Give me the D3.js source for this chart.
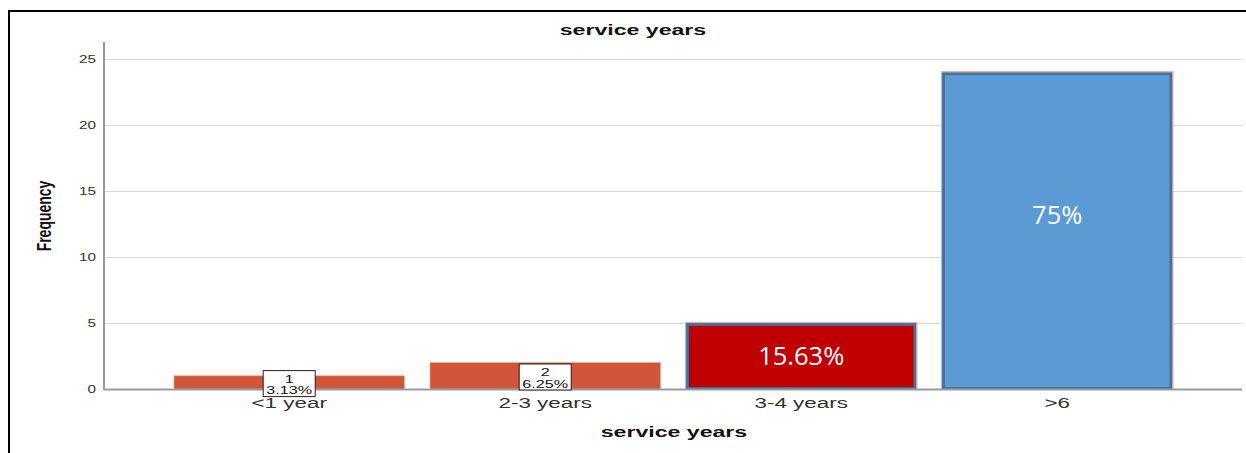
<!DOCTYPE html>
<html>
<head>
<meta charset="utf-8">
<script src="https://cdn.jsdelivr.net/npm/d3@7"></script>
<style>
  html, body { margin: 0; padding: 0; background: #fff; }
  svg { display: block; }
</style>
</head>
<body>
<svg id="chart" width="1246" height="453" font-family="Liberation Sans, Arial, sans-serif"></svg>
<script>
// ---- data ----
const categories = ["<1 year", "2-3 years", "3-4 years", ">6"];
const frequencies = [1, 2, 5, 24];
const percentLabels = ["3.13%", "6.25%", "15.63%", "75%"];
const yTicks = [0, 5, 10, 15, 20, 25];
const chartTitle = "service years";
const xTitle = "service years";
const yTitle = "Frequency";

// ---- layout / styles ----
const W = 1246, H = 453;
const svg = d3.select("#chart");
const plotLeft = 104, plotRight = 1242, plotTop = 42, plotBottom = 389;

const x = d3.scaleBand().domain(categories)
  .range([161.2, 1185.2]).paddingInner(0.1).paddingOuter(0.05);
const y = d3.scaleLinear().domain([0, 26.29]).range([plotBottom, plotTop]);

function stretch(sel, k) {
  sel.each(function () {
    const l = this.getComputedTextLength();
    this.setAttribute("textLength", l * k);
    this.setAttribute("lengthAdjust", "spacingAndGlyphs");
  });
}

// frame
svg.append("line").attr("x1", 9).attr("x2", W).attr("y1", 11).attr("y2", 11)
  .attr("stroke", "#000").attr("stroke-width", 2);
svg.append("line").attr("x1", 9).attr("x2", 9).attr("y1", 10).attr("y2", H)
  .attr("stroke", "#000").attr("stroke-width", 2);

// gridlines
svg.append("g").selectAll("line").data(yTicks.filter(d => d > 0)).join("line")
  .attr("x1", plotLeft).attr("x2", plotRight)
  .attr("y1", d => Math.round(y(d)) + 0.5).attr("y2", d => Math.round(y(d)) + 0.5)
  .attr("stroke", "#d9d9d9").attr("stroke-width", 1.2);

// y axis
const yAxis = svg.append("g").attr("transform", `translate(${plotLeft - 8},0)`)
  .call(d3.axisLeft(y).tickValues(yTicks).tickSize(0).tickPadding(0));
yAxis.select(".domain").remove();
yAxis.attr("font-family", null).attr("font-size", null);
yAxis.selectAll("text").attr("font-size", 10.5).attr("fill", "#333");
stretch(yAxis.selectAll("text"), 1.45);

// bars
const colors = ["#d15538", "#d15538", "#c00000", "#5b9bd5"];
const bars = svg.append("g");
categories.forEach((c, i) => {
  const bx = x(c), bw = x.bandwidth();
  const top = y(frequencies[i]), h = y(0) - top;
  if (i < 2) {
    bars.append("rect").attr("x", bx).attr("y", top).attr("width", bw).attr("height", h)
      .attr("fill", colors[i]).attr("stroke", "#e9a48f").attr("stroke-width", 0.6);
  } else {
    bars.append("rect").attr("x", bx - 0.5).attr("y", top - 0.5).attr("width", bw + 1).attr("height", h + 0.5)
      .attr("fill", "none").attr("stroke", "#eea898").attr("stroke-width", 1.2);
    bars.append("rect").attr("x", bx + 1.5).attr("y", top + 1.5).attr("width", bw - 3).attr("height", h - 2)
      .attr("fill", colors[i]).attr("stroke", "#41719c").attr("stroke-width", 2.8);
  }
});

// baseline and y axis line
svg.append("line").attr("x1", plotLeft).attr("x2", plotRight).attr("y1", plotBottom + 0.5).attr("y2", plotBottom + 0.5)
  .attr("stroke", "#9a9a9a").attr("stroke-width", 1.8);
svg.append("line").attr("x1", plotLeft).attr("x2", plotLeft).attr("y1", plotTop).attr("y2", plotBottom + 1)
  .attr("stroke", "#9a9a9a").attr("stroke-width", 2);

// value labels
const labelFrac = [0.5, 0.5, 0.5, 0.55];
categories.forEach((c, i) => {
  const cx = x(c) + x.bandwidth() / 2;
  if (i < 2) {
    const cy = (y(frequencies[i]) + y(0)) / 2 + 1.2;
    const bw = 52, bh = 26;
    svg.append("rect").attr("x", cx - bw / 2).attr("y", cy - bh / 2).attr("width", bw).attr("height", bh)
      .attr("fill", "#fff").attr("stroke", "#222").attr("stroke-width", 1);
    const t1 = svg.append("text").attr("x", cx).attr("y", cy - 1).attr("text-anchor", "middle")
      .attr("font-size", 11.5).attr("fill", "#111").text(frequencies[i]);
    const t2 = svg.append("text").attr("x", cx).attr("y", cy + 10.5).attr("text-anchor", "middle")
      .attr("font-size", 11.5).attr("fill", "#111").text(percentLabels[i]);
    stretch(t1, 1.4); stretch(t2, 1.4);
  } else {
    const cy = y(frequencies[i] * labelFrac[i]);
    svg.append("text").attr("x", cx).attr("y", cy + 9).attr("text-anchor", "middle")
      .attr("font-family", "'Open Sans', Lato, sans-serif").attr("font-size", 25.5)
      .attr("fill", "#fff").text(percentLabels[i]);
  }
});

// x category labels
const xl = svg.append("g").selectAll("text").data(categories).join("text")
  .attr("x", d => x(d) + x.bandwidth() / 2).attr("y", 408).attr("text-anchor", "middle")
  .attr("font-size", 14).attr("fill", "#333").text(d => d);
stretch(xl, 1.6);

// titles
const t = svg.append("text").attr("x", 633).attr("y", 35).attr("text-anchor", "middle")
  .attr("font-size", 14).attr("font-weight", "bold").attr("fill", "#111").text(chartTitle);
stretch(t, 1.65);
const xt = svg.append("text").attr("x", 674).attr("y", 437).attr("text-anchor", "middle")
  .attr("font-size", 14).attr("font-weight", "bold").attr("fill", "#111").text(xTitle);
stretch(xt, 1.65);
svg.append("text").attr("transform", "translate(51,216) scale(1.5,1) rotate(-90)")
  .attr("text-anchor", "middle").attr("font-size", 14).attr("font-weight", "bold")
  .attr("fill", "#111").text(yTitle);
</script>
</body>
</html>
